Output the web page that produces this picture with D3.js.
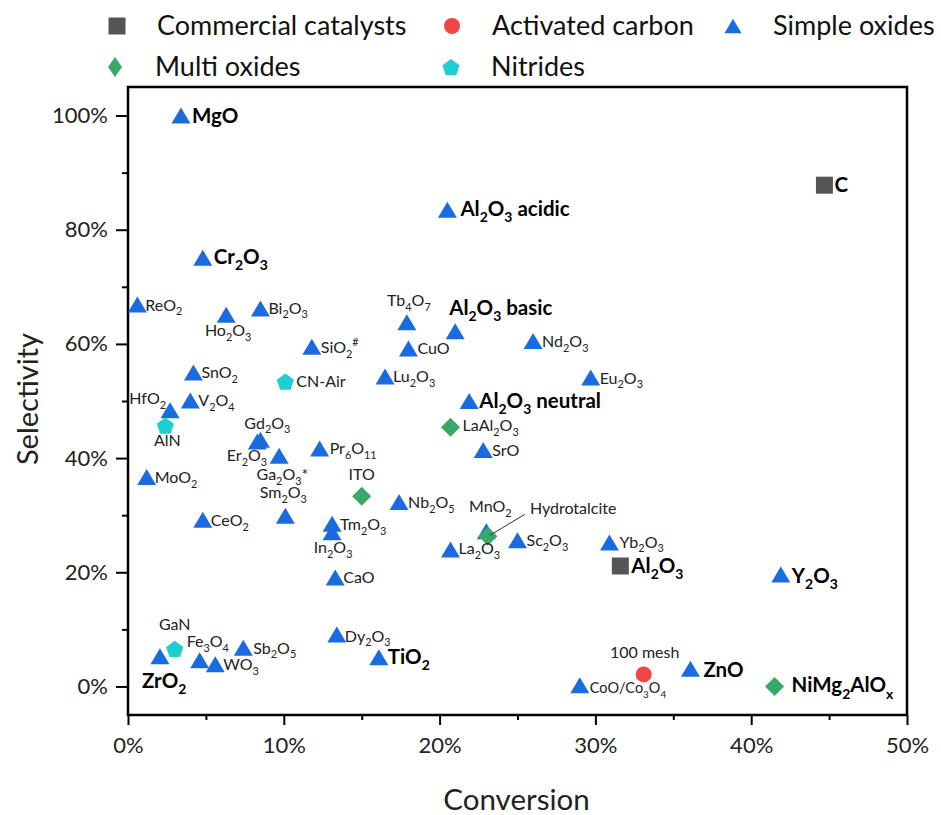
<!DOCTYPE html>
<html>
<head>
<meta charset="utf-8">
<script src="https://cdn.jsdelivr.net/npm/d3@7"></script>
<style>
  html, body { margin: 0; padding: 0; background: #fff; }
  svg { display: block; font-family: Lato, "Open Sans", sans-serif; }
</style>
</head>
<body>
<svg id="chart" width="941" height="815"></svg>
<script>
// ---------------- DATA ----------------
// Commercial catalysts
const commercialNames = ["C", "Al_2O_3"];
const commercialConv  = [44.7, 31.6];
const commercialSel   = [87.8, 21.1];

// Activated carbon
const carbonNames = ["100 mesh"];
const carbonConv  = [33.1];
const carbonSel   = [2.1];

// Simple oxides
const simpleNames = ["MgO", "Cr_2O_3", "Al_2O_3 acidic", "ReO_2", "Ho_2O_3", "Bi_2O_3", "Tb_4O_7",
  "Al_2O_3 basic", "SiO_2^#", "CuO", "Nd_2O_3", "SnO_2", "Lu_2O_3", "Eu_2O_3", "V_2O_4", "HfO_2",
  "Al_2O_3 neutral", "Gd_2O_3", "Ga_2O_3*", "Er_2O_3", "Pr_6O_{11}", "MoO_2", "SrO", "CeO_2",
  "Sm_2O_3", "Tm_2O_3", "In_2O_3", "Nb_2O_5", "La_2O_3", "MnO_2", "Sc_2O_3", "Yb_2O_3", "Y_2O_3",
  "CaO", "Dy_2O_3", "TiO_2", "ZrO_2", "Fe_3O_4", "WO_3", "Sb_2O_5", "CoO/Co_3O_4", "ZnO"];
const simpleConv = [3.4, 4.8, 20.5, 0.6, 6.3, 8.5, 17.9,
  21.0, 11.8, 18.0, 26.0, 4.2, 16.5, 29.7, 4.0, 2.7,
  21.9, 8.3, 8.5, 9.7, 12.3, 1.2, 22.8, 4.8,
  10.1, 13.1, 13.1, 17.4, 20.7, 23.0, 25.0, 30.9, 41.9,
  13.3, 13.4, 16.1, 2.05, 4.6, 5.6, 7.4, 29.0, 36.1];
const simpleSel = [100, 75.1, 83.5, 66.9, 65.1, 66.2, 63.8,
  62.2, 59.5, 59.2, 60.5, 55.0, 54.3, 54.1, 50.1, 48.4,
  50.0, 42.9, 43.2, 40.4, 41.7, 36.7, 41.4, 29.2,
  29.9, 28.5, 27.0, 32.3, 24.0, 27.2, 25.6, 25.2, 19.6,
  19.1, 9.1, 5.1, 5.3, 4.6, 3.9, 6.8, 0.2, 3.1];

// Multi oxides
const multiNames = ["LaAl_2O_3", "ITO", "Hydrotalcite", "NiMg_2AlO_x"];
const multiConv  = [20.7, 15.0, 23.1, 41.5];
const multiSel   = [45.4, 33.3, 26.3, 0.0];

// Nitrides
const nitrideNames = ["CN-Air", "AlN", "GaN"];
const nitrideConv  = [10.1, 2.4, 3.0];
const nitrideSel   = [53.4, 45.7, 6.6];

// Axis ticks
const xMajorTicks = [0, 10, 20, 30, 40, 50];
const xMinorTicks = [5, 15, 25, 35, 45];
const yMajorTicks = [0, 20, 40, 60, 80, 100];
const yMinorTicks = [10, 30, 50, 70, 90];

// ---------------- LAYOUT / STYLE ----------------
const plot = { left: 128, right: 907, top: 87, bottom: 715 };

const seriesStyle = [
  { key: "Commercial catalysts", names: commercialNames, conv: commercialConv, sel: commercialSel, shape: "square",   color: "#555555" },
  { key: "Activated carbon",     names: carbonNames,     conv: carbonConv,     sel: carbonSel,     shape: "circle",   color: "#f24444" },
  { key: "Simple oxides",        names: simpleNames,     conv: simpleConv,     sel: simpleSel,     shape: "triangle", color: "#1b6be0" },
  { key: "Multi oxides",         names: multiNames,      conv: multiConv,      sel: multiSel,      shape: "diamond",  color: "#38a868" },
  { key: "Nitrides",             names: nitrideNames,    conv: nitrideConv,    sel: nitrideSel,    shape: "pentagon", color: "#1ecfcf" }
];

// label placement: [dx, dy, anchor, bold]
const labelPlace = {
  "C": [10, 7, "start", true],
  "Al_2O_3": [11, 7, "start", true],
  "100 mesh": [1, -16, "middle", false],
  "MgO": [11, 7, "start", true],
  "Cr_2O_3": [11, 6, "start", true],
  "Al_2O_3 acidic": [13, 6, "start", true],
  "ReO_2": [8, 6, "start", false],
  "Ho_2O_3": [2, 21, "middle", false],
  "Bi_2O_3": [8, 5, "start", false],
  "Tb_4O_7": [2, -16, "middle", false],
  "Al_2O_3 basic": [-6, -16, "start", true],
  "SiO_2^#": [9, 6, "start", false],
  "CuO": [9, 6, "start", false],
  "Nd_2O_3": [9, 6, "start", false],
  "SnO_2": [8, 6, "start", false],
  "Lu_2O_3": [8, 6, "start", false],
  "Eu_2O_3": [9, 6, "start", false],
  "V_2O_4": [8, 6, "start", false],
  "HfO_2": [-4, -6, "end", false],
  "Al_2O_3 neutral": [10, 7, "start", true],
  "Gd_2O_3": [10, -13, "middle", false],
  "Ga_2O_3*": [22, 40, "middle", false],
  "Er_2O_3": [-12, 5, "end", false],
  "Pr_6O_{11}": [10, 6, "start", false],
  "MoO_2": [8, 6, "start", false],
  "SrO": [9, 6, "start", false],
  "CeO_2": [8, 6, "start", false],
  "Sm_2O_3": [-2, -18, "middle", false],
  "Tm_2O_3": [8, 6, "start", false],
  "In_2O_3": [1, 21, "middle", false],
  "Nb_2O_5": [9, 6, "start", false],
  "La_2O_3": [8, 5, "start", false],
  "MnO_2": [4, -19, "middle", false],
  "Sc_2O_3": [9, 6, "start", false],
  "Yb_2O_3": [10, 5, "start", false],
  "Y_2O_3": [11, 8, "start", true],
  "CaO": [8, 6, "start", false],
  "Dy_2O_3": [8, 7, "start", false],
  "TiO_2": [9, 7, "start", true],
  "ZrO_2": [-18, 32, "start", true],
  "Fe_3O_4": [-13, -13, "start", false],
  "WO_3": [8, 6, "start", false],
  "Sb_2O_5": [10, 6, "start", false],
  "CoO/Co_3O_4": [10, 8, "start", false],
  "ZnO": [13, 8, "start", true],
  "LaAl_2O_3": [12, 4, "start", false],
  "ITO": [0, -16, "middle", false],
  "Hydrotalcite": [42, -22, "start", false],
  "NiMg_2AlO_x": [17, 6, "start", true],
  "CN-Air": [11, 5, "start", false],
  "AlN": [2, 20, "middle", false],
  "GaN": [0, -19, "middle", false]
};
const leaderLines = { "Hydrotalcite": [37, -22] };

// ---------------- SCALES ----------------
const x = d3.scaleLinear().domain([0, 50]).range([plot.left, plot.right]);
const y = d3.scaleLinear().domain([-5, 105]).range([plot.bottom, plot.top]);

const svg = d3.select("#chart");

// ---------------- SHAPES ----------------
function shapePath(shape, s) {
  const p = d3.path();
  if (shape === "triangle") {
    const w = 19 * s, h = 16 * s;
    p.moveTo(0, -h / 2); p.lineTo(w / 2, h / 2); p.lineTo(-w / 2, h / 2); p.closePath();
  } else if (shape === "square") {
    const a = 17 * s;
    p.rect(-a / 2, -a / 2, a, a);
  } else if (shape === "diamond") {
    const r = 9.5 * s;
    p.moveTo(0, -r); p.lineTo(r, 0); p.lineTo(0, r); p.lineTo(-r, 0); p.closePath();
  } else if (shape === "circle") {
    const r = 8 * s;
    p.arc(0, 0, r, 0, 2 * Math.PI);
  } else if (shape === "pentagon") {
    const r = 9 * s;
    for (let i = 0; i < 5; i++) {
      const a = -Math.PI / 2 + i * 2 * Math.PI / 5;
      const px = r * Math.cos(a), py = r * Math.sin(a) + 1 * s;
      if (i === 0) p.moveTo(px, py); else p.lineTo(px, py);
    }
    p.closePath();
  }
  return p.toString();
}
function legendDiamond() {
  const p = d3.path();
  p.moveTo(0, -10); p.lineTo(7, 0); p.lineTo(0, 10); p.lineTo(-7, 0); p.closePath();
  return p.toString();
}

// ---------------- RICH TEXT ----------------
function parseRich(str) {
  const parts = [];
  let i = 0, buf = "";
  while (i < str.length) {
    const c = str[i];
    if (c === "_" || c === "^") {
      if (buf) { parts.push({ t: buf, k: "n" }); buf = ""; }
      let grp;
      if (str[i + 1] === "{") {
        const j = str.indexOf("}", i + 2);
        grp = str.slice(i + 2, j); i = j + 1;
      } else { grp = str[i + 1]; i += 2; }
      parts.push({ t: grp, k: c === "_" ? "sub" : "sup" });
    } else { buf += c; i++; }
  }
  if (buf) parts.push({ t: buf, k: "n" });
  return parts;
}
function richText(sel, str, fs) {
  const parts = parseRich(str);
  let shift = 0;
  parts.forEach(pt => {
    const ts = sel.append("tspan").text(pt.t);
    let target = 0;
    if (pt.k === "sub") { ts.attr("font-size", fs * 0.68); target = fs * 0.3; }
    else if (pt.k === "sup") { ts.attr("font-size", fs * 0.68); target = -fs * 0.42; }
    ts.attr("dy", target - shift);
    shift = target;
  });
}

// ---------------- FRAME & AXES ----------------
const gx = svg.append("g").attr("transform", `translate(0,${plot.bottom})`);
gx.call(d3.axisBottom(x).tickValues(xMajorTicks).tickFormat(d => d + "%").tickSize(10).tickPadding(12));
gx.append("g").call(d3.axisBottom(x).tickValues(xMinorTicks).tickFormat("").tickSize(5));
const gy = svg.append("g").attr("transform", `translate(${plot.left},0)`);
gy.call(d3.axisLeft(y).tickValues(yMajorTicks).tickFormat(d => d + "%").tickSize(12).tickPadding(8));
gy.append("g").call(d3.axisLeft(y).tickValues(yMinorTicks).tickFormat("").tickSize(6));

svg.selectAll(".domain").remove();
svg.selectAll(".tick line").attr("stroke", "#000").attr("stroke-width", 2);
svg.selectAll(".tick text").attr("font-family", "Lato, sans-serif").attr("font-size", 22).attr("fill", "#222");

svg.append("rect")
  .attr("x", plot.left).attr("y", plot.top)
  .attr("width", plot.right - plot.left).attr("height", plot.bottom - plot.top)
  .attr("fill", "none").attr("stroke", "#000").attr("stroke-width", 2.5);

// axis titles
svg.append("text").attr("x", (plot.left + plot.right) / 2 - 1).attr("y", 810)
  .attr("text-anchor", "middle").attr("font-size", 29.5).attr("fill", "#222").text("Conversion");
svg.append("text").attr("transform", `translate(38,${(plot.top + plot.bottom) / 2 - 2}) rotate(-90)`)
  .attr("text-anchor", "middle").attr("font-size", 29).attr("fill", "#222").text("Selectivity");

// ---------------- POINTS ----------------
const gPts = svg.append("g");
const gLbl = svg.append("g");
seriesStyle.forEach(s => {
  const rows = s.names.map((n, i) => ({ name: n, cx: x(s.conv[i]), cy: y(s.sel[i]) }));
  gPts.selectAll(null).data(rows).enter().append("path")
    .attr("transform", d => `translate(${d.cx},${d.cy})`)
    .attr("d", shapePath(s.shape, 1))
    .attr("fill", s.color);
  rows.forEach(d => {
    const lp = labelPlace[d.name] || [8, 6, "start", false];
    const fs = lp[3] ? 20.5 : (d.name === "CoO/Co_3O_4" ? 14.5 : 16);
    const t = gLbl.append("text")
      .attr("x", d.cx + lp[0]).attr("y", d.cy + lp[1])
      .attr("text-anchor", lp[2])
      .attr("font-size", fs)
      .attr("font-weight", lp[3] ? 700 : 400)
      .attr("fill", lp[3] ? "#000" : "#222");
    richText(t, d.name, fs);
    if (leaderLines[d.name]) {
      const l = leaderLines[d.name];
      gLbl.append("line").attr("x1", d.cx + l[0]).attr("y1", d.cy + l[1])
        .attr("x2", d.cx + 2).attr("y2", d.cy - 1)
        .attr("stroke", "#333").attr("stroke-width", 1);
    }
  });
});

// ---------------- LEGEND ----------------
const legendPos = [[117, 26], [452, 26], [733, 26], [115, 67], [451, 67]];
seriesStyle.forEach((s, i) => {
  const [lx, ly] = legendPos[i];
  svg.append("path").attr("transform", `translate(${lx},${ly})`)
    .attr("d", s.shape === "diamond" ? legendDiamond() : shapePath(s.shape, s.shape === "triangle" ? 0.9 : 1))
    .attr("fill", s.color);
  svg.append("text").attr("x", lx + 40).attr("y", ly + 9)
    .attr("font-size", 27).attr("fill", "#111").text(s.key);
});
</script>
</body>
</html>
